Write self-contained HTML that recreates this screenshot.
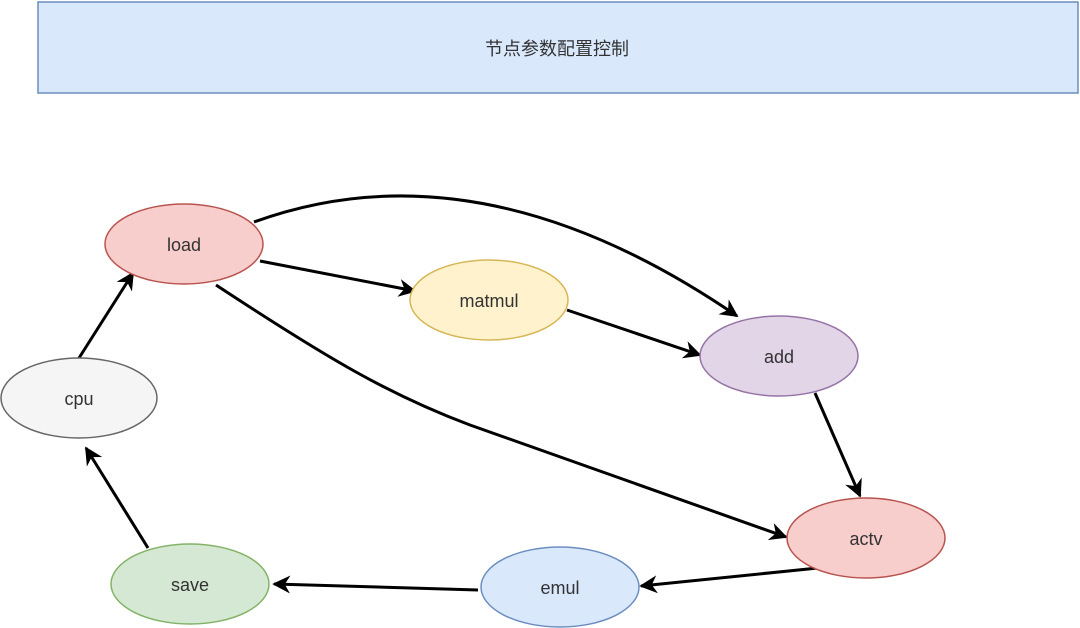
<!DOCTYPE html>
<html><head><meta charset="utf-8"><style>
html,body{margin:0;padding:0;background:#fff;width:1080px;height:628px;overflow:hidden}
svg text{font-family:"Liberation Sans","Noto Sans CJK SC",sans-serif;font-size:18px;fill:#333}
</style></head><body>
<svg width="1080" height="628" viewBox="0 0 1080 628" xmlns="http://www.w3.org/2000/svg">
<defs><marker id="a" viewBox="0 0 10 10" refX="9" refY="5" markerWidth="6" markerHeight="6" orient="auto" markerUnits="strokeWidth"><path d="M0,0 L10,5 L0,10 L3,5 z" fill="#000"/></marker></defs>
<rect x="38" y="2" width="1040" height="91" fill="#dae8fc" stroke="#6c8ebf" stroke-width="1.5"/>
<text x="557" y="55" text-anchor="middle">节点参数配置控制</text>
<g stroke="#000" stroke-width="3" fill="none" marker-end="url(#a)">
<path d="M260,261 L415,291"/>
<path d="M567,310 L700,355"/>
<path d="M254,222 Q480,140 737,316"/>
<path d="M216,285 C330,360 390,395 470,425 L786,537"/>
<path d="M815,393 L860,496"/>
<path d="M818,568 L641,586"/>
<path d="M478,590 L274,584"/>
<path d="M148,548 L86,448"/>
<path d="M79,358 L133,273"/>
</g>
<g stroke-width="1.5">
<ellipse cx="184" cy="244" rx="79" ry="40" fill="#f8cecc" stroke="#b85450"/>
<ellipse cx="489" cy="300" rx="79" ry="40" fill="#fff2cc" stroke="#d6b656"/>
<ellipse cx="779" cy="356" rx="79" ry="40" fill="#e1d5e7" stroke="#9673a6"/>
<ellipse cx="866" cy="538" rx="79" ry="40" fill="#f8cecc" stroke="#b85450"/>
<ellipse cx="560" cy="587" rx="79" ry="40" fill="#dae8fc" stroke="#6c8ebf"/>
<ellipse cx="190" cy="584" rx="79" ry="40" fill="#d5e8d4" stroke="#82b366"/>
<ellipse cx="79" cy="398" rx="78" ry="40" fill="#f5f5f5" stroke="#666666"/>
</g>
<g text-anchor="middle">
<text x="184" y="251">load</text>
<text x="489" y="307">matmul</text>
<text x="779" y="363">add</text>
<text x="866" y="545">actv</text>
<text x="560" y="594">emul</text>
<text x="190" y="591">save</text>
<text x="79" y="405">cpu</text>
</g>
</svg>
</body></html>
